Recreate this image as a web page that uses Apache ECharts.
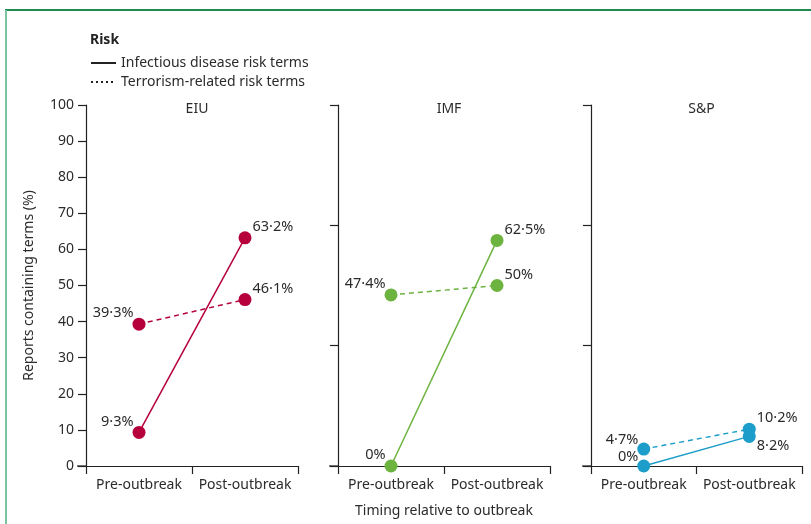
<!DOCTYPE html>
<html>
<head>
<meta charset="utf-8">
<script src="https://cdn.jsdelivr.net/npm/echarts@6/dist/echarts.min.js"></script>
<style>
  html, body { margin: 0; padding: 0; background: #fff; }
  #main { width: 811px; height: 524px; }
</style>
</head>
<body>
<div id="main"></div>
<script>
// data
var categories = ['Pre-outbreak', 'Post-outbreak'];
var panels = ['EIU', 'IMF', 'S&P'];
var infectious = [
  [9.3, 63.2],   // EIU
  [0, 62.5],     // IMF
  [0, 8.2]       // S&P
];
var terrorism = [
  [39.3, 46.1],
  [47.4, 50],
  [4.7, 10.2]
];
var colors = ['#b5003b', '#6db33f', '#1d9dc9'];

// layout
var gridLeft = [86, 338, 591];
var gridWidth = [212, 212, 211];
var gridTop = 105, gridHeight = 361;
var textColor = '#2b2b2b';
var fontFam = 'Noto Sans';

// label offsets: pre point to the left, post point to the right
// 8.2% in S&P sits under its point
function labelOpt(i, panel, line) {
  var dy = -11;
  if (panel === 2 && line === 'inf' && i === 1) dy = 9;
  if (panel === 2 && i === 0) dy = -9;
  return {
    show: true,
    position: i === 0 ? 'left' : 'right',
    distance: 2,
    offset: [i === 0 ? 3 : -1, dy],
    color: textColor,
    fontSize: 14.5,
    fontFamily: fontFam,
    formatter: function (p) {
      return String(p.value).replace('.', '\u00b7') + '%';
    }
  };
}

var grids = [], xAxes = [], yAxes = [], series = [], titles = [], graphics = [];

titles.push({
  text: 'Risk', left: 85, top: 28,
  textStyle: { fontSize: 14, fontWeight: 'bold', color: '#222', fontFamily: fontFam }
});

panels.forEach(function (name, k) {
  grids.push({ left: gridLeft[k], width: gridWidth[k], top: gridTop, height: gridHeight });
  titles.push({
    text: name,
    left: gridLeft[k] + gridWidth[k] / 2, textAlign: 'center', top: 97,
    textStyle: { fontSize: 14, fontWeight: 'normal', color: textColor, fontFamily: fontFam }
  });
  xAxes.push({
    type: 'category', gridIndex: k, data: categories, boundaryGap: true,
    axisLine: { lineStyle: { color: '#222', width: 1.2 } },
    axisTick: { show: true, length: 8, lineStyle: { color: '#222', width: 1.2 } },
    axisLabel: { interval: 0, color: textColor, fontSize: 14, fontFamily: fontFam, margin: 12 },
    name: k === 1 ? 'Timing relative to outbreak' : '',
    nameLocation: 'middle', nameGap: 38,
    nameTextStyle: { color: textColor, fontSize: 14, fontFamily: fontFam }
  });
  yAxes.push({
    type: 'value', gridIndex: k, min: 0, max: 100,
    interval: k === 0 ? 10 : 100 / 3,
    axisLine: { show: true, lineStyle: { color: '#222', width: 1.2 } },
    axisTick: { show: true, length: 8, lineStyle: { color: '#222', width: 1.2 } },
    axisLabel: { show: k === 0, color: textColor, fontSize: 14, fontFamily: fontFam, margin: 12 },
    splitLine: { show: false },
    name: k === 0 ? 'Reports containing terms (%)' : '',
    nameLocation: 'middle', nameGap: 50, nameRotate: 90,
    nameTextStyle: { color: textColor, fontSize: 14, fontFamily: fontFam }
  });

  [['inf', infectious[k], 'solid'], ['ter', terrorism[k], [5, 4]]].forEach(function (s) {
    series.push({
      type: 'line', xAxisIndex: k, yAxisIndex: k,
      symbol: 'circle', symbolSize: 13,
      itemStyle: { color: colors[k] },
      lineStyle: { color: colors[k], width: 1.5, type: s[2] },
      data: s[1].map(function (v, i) {
        return { value: v, label: labelOpt(i, k, s[0]) };
      }),
      z: s[0] === 'inf' ? 3 : 2,
      silent: true, animation: false
    });
  });

  // x axis line sticks out a little to the left of the y axis
  graphics.push({
    type: 'line',
    shape: { x1: gridLeft[k] - 9, y1: gridTop + gridHeight, x2: gridLeft[k], y2: gridTop + gridHeight },
    style: { stroke: '#222', lineWidth: 1.2 }
  });
});

// legend entries (black keys)
series.push({
  name: 'Infectious disease risk terms', type: 'line', xAxisIndex: 0, yAxisIndex: 0,
  data: [], symbol: 'none', showSymbol: false, color: '#222',
  lineStyle: { color: '#222', width: 1.2, type: 'solid' }
});
series.push({
  name: 'Terrorism-related risk terms', type: 'line', xAxisIndex: 0, yAxisIndex: 0,
  data: [], symbol: 'none', showSymbol: false, color: '#222',
  lineStyle: { color: '#222', width: 1.2, type: [2, 3] }
});

// green frame
graphics.push({ type: 'line', shape: { x1: 5, y1: 10, x2: 811, y2: 10 }, style: { stroke: '#1f8a50', lineWidth: 2 } });
graphics.push({ type: 'line', shape: { x1: 6, y1: 10, x2: 6, y2: 524 }, style: { stroke: '#7cc4a0', lineWidth: 2 } });

var chart = echarts.init(document.getElementById('main'), null, { renderer: 'canvas' });
chart.setOption({
  animation: false,
  backgroundColor: '#fff',
  title: titles,
  legend: {
    orient: 'vertical', left: 85, top: 51, itemWidth: 25, itemHeight: 14, itemGap: 5,
    selectedMode: false,
    itemStyle: { opacity: 0 },
    textStyle: { color: textColor, fontSize: 14, fontFamily: fontFam },
    data: ['Infectious disease risk terms', 'Terrorism-related risk terms']
  },
  grid: grids,
  xAxis: xAxes,
  yAxis: yAxes,
  series: series,
  graphic: graphics
});
</script>
</body>
</html>
